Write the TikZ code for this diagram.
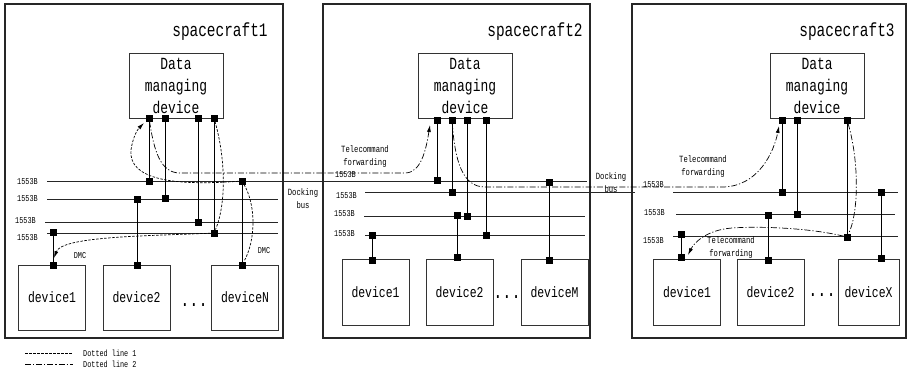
\documentclass[tikz,border=0pt]{standalone}
\usepackage{fontspec}
\newfontfamily\monof[FakeStretch=0.76]{Liberation Mono}
\usetikzlibrary{arrows.meta}
\tikzset{
  sq/.style={fill=black, minimum size=7pt, inner sep=0pt, outer sep=0pt},
  craft/.style={draw=black!85, line width=1.1pt},
  title/.style={font=\monof\fontsize{19}{22}\selectfont, inner sep=0pt},
  dmd/.style={draw=black!80, line width=1pt, minimum width=94pt, minimum height=65pt, inner sep=0pt, align=center, font=\monof\fontsize{17}{22}\selectfont},
  dev/.style={draw=black!80, line width=1pt, minimum width=67pt, minimum height=66pt, inner sep=0pt, font=\monof\fontsize{15}{18}\selectfont},
  bus/.style={draw=black!85, line width=0.9pt},
  conn/.style={draw=black, line width=0.9pt},
  lab/.style={font=\monof\fontsize{9}{10}\selectfont, inner sep=0pt},
  small/.style={font=\monof\fontsize{9.5}{13}\selectfont, inner sep=0pt, align=center},
  dots/.style={font=\monof\fontsize{20}{20}\selectfont, inner sep=0pt},
  dlone/.style={dash pattern=on 2.5pt off 1.5pt, line width=0.7pt},
  dltwo/.style={dash pattern=on 6pt off 2pt on 1.2pt off 2pt, line width=0.7pt},
  tip/.style={-{Latex[length=7pt,width=4pt]}},
}
\begin{document}
\begin{tikzpicture}[x=1pt,y=-1pt]
\useasboundingbox (0,0) rectangle (908,378);

% spacecraft frames
\draw[craft] (5,4) rectangle (283,338);
\draw[craft] (323,4) rectangle (590,338);
\draw[craft] (632,4) rectangle (906,338);
\node[title] (t1) at (220,32) {spacecraft1};
\node[title] (t2) at (535,32) {spacecraft2};
\node[title] (t3) at (847,32) {spacecraft3};

% data managing devices
\node[dmd] (dmd1) at (176,85.5) {Data\\managing\\device};
\node[dmd] (dmd2) at (465,85.5) {Data\\managing\\device};
\node[dmd] (dmd3) at (817,85.5) {Data\\managing\\device};

% devices
\node[dev, minimum height=65pt] (dev11) at (52,297.5) {device1};
\node[dev, minimum height=65pt] (dev12) at (136.5,297.5) {device2};
\node[dev, minimum height=65pt] (dev13) at (245,297.5) {deviceN};
\node[dev] (dev21) at (375.5,292.5) {device1};
\node[dev] (dev22) at (459.5,292.5) {device2};
\node[dev] (dev23) at (554.5,292.5) {deviceM};
\node[dev] (dev31) at (687,292.5) {device1};
\node[dev] (dev32) at (770.5,292.5) {device2};
\node[dev, minimum width=61pt] (dev33) at (868.5,292.5) {deviceX};
\node[dots] (dots1) at (194,305) {...};
\node[dots] (dots2) at (507,297) {...};
\node[dots] (dots3) at (822,295) {...};

% bus end coordinates
\coordinate (s1b1l) at (47,181);  \coordinate (s1b1r) at (587,181);
\coordinate (s1b2l) at (47,199);  \coordinate (s1b2r) at (278,199);
\coordinate (s1b3l) at (45,222);  \coordinate (s1b3r) at (278,222);
\coordinate (s1b4l) at (47,233);  \coordinate (s1b4r) at (278,233);
\coordinate (s2b2l) at (365,192); \coordinate (s2b2r) at (635,192);
\coordinate (s2b3l) at (364,216); \coordinate (s2b3r) at (585,216);
\coordinate (s2b4l) at (365,235); \coordinate (s2b4r) at (585,235);
\coordinate (s3b1l) at (673,192); \coordinate (s3b1r) at (898,192);
\coordinate (s3b2l) at (676,214); \coordinate (s3b2r) at (895,214);
\coordinate (s3b3l) at (673,236); \coordinate (s3b3r) at (898,236);
\draw[bus] (s1b1l) -- (s1b1r);
\draw[bus] (s1b2l) -- (s1b2r);
\draw[bus] (s1b3l) -- (s1b3r);
\draw[bus] (s1b4l) -- (s1b4r);
\draw[bus] (s2b2l) -- (s2b2r);
\draw[bus] (s2b3l) -- (s2b3r);
\draw[bus] (s2b4l) -- (s2b4r);
\draw[bus] (s3b1l) -- (s3b1r);
\draw[bus] (s3b2l) -- (s3b2r);
\draw[bus] (s3b3l) -- (s3b3r);

% bus labels
\node[lab, anchor=west] (l11) at (17,182) {1553B};
\node[lab, anchor=west] (l12) at (17,199) {1553B};
\node[lab, anchor=west] (l13) at (15,221) {1553B};
\node[lab, anchor=west] (l14) at (17,238) {1553B};
\node[lab, anchor=west] (l21) at (335,175) {1553B};
\node[lab, anchor=west] (l22) at (336,196) {1553B};
\node[lab, anchor=west] (l23) at (334,214) {1553B};
\node[lab, anchor=west] (l24) at (334,234) {1553B};
\node[lab, anchor=west] (l31) at (643,185) {1553B};
\node[lab, anchor=west] (l32) at (644,213) {1553B};
\node[lab, anchor=west] (l33) at (643,241) {1553B};

% squares spacecraft1
\node[sq] (m1a) at (149,118) {};
\node[sq] (m1b) at (165,118) {};
\node[sq] (m1c) at (198,118) {};
\node[sq] (m1d) at (214,118) {};
\node[sq] (b1a) at (149,181) {};
\node[sq] (b1b) at (165,198) {};
\node[sq] (b1c) at (198,222) {};
\node[sq] (b1d) at (214,233) {};
\node[sq] (b1e) at (53,232) {};
\node[sq] (b1f) at (137,199) {};
\node[sq] (b1g) at (242,181) {};
\node[sq] (d1a) at (53,265) {};
\node[sq] (d1b) at (137,265) {};
\node[sq] (d1c) at (242,265) {};
\draw[conn] (m1a) -- (b1a);
\draw[conn] (m1b) -- (b1b);
\draw[conn] (m1c) -- (b1c);
\draw[conn] (m1d) -- (b1d);
\draw[conn] (b1e) -- (d1a);
\draw[conn] (b1f) -- (d1b);
\draw[conn] (b1g) -- (d1c);

% squares spacecraft2
\node[sq] (m2a) at (437,120) {};
\node[sq] (m2b) at (452,120) {};
\node[sq] (m2c) at (467,120) {};
\node[sq] (m2d) at (486,120) {};
\node[sq] (b2a) at (437,180) {};
\node[sq] (b2b) at (452,192) {};
\node[sq] (b2c) at (467,216) {};
\node[sq] (b2d) at (486,235) {};
\node[sq] (b2e) at (372,235) {};
\node[sq] (b2f) at (457,215) {};
\node[sq] (b2g) at (549,182) {};
\node[sq] (d2a) at (372,260) {};
\node[sq] (d2b) at (457,257) {};
\node[sq] (d2c) at (549,260) {};
\draw[conn] (m2a) -- (b2a);
\draw[conn] (m2b) -- (b2b);
\draw[conn] (m2c) -- (b2c);
\draw[conn] (m2d) -- (b2d);
\draw[conn] (b2e) -- (d2a);
\draw[conn] (b2f) -- (d2b);
\draw[conn] (b2g) -- (d2c);

% squares spacecraft3
\node[sq] (m3a) at (782,120) {};
\node[sq] (m3b) at (797,120) {};
\node[sq] (m3c) at (847,120) {};
\node[sq] (b3a) at (782,192) {};
\node[sq] (b3b) at (797,214) {};
\node[sq] (b3c) at (847,237) {};
\node[sq] (b3d) at (681,234) {};
\node[sq] (b3e) at (768,215) {};
\node[sq] (b3f) at (881,192) {};
\node[sq] (d3a) at (681,257) {};
\node[sq] (d3b) at (768,260) {};
\node[sq] (d3c) at (881,258) {};
\draw[conn] (m3a) -- (b3a);
\draw[conn] (m3b) -- (b3b);
\draw[conn] (m3c) -- (b3c);
\draw[conn] (b3d) -- (d3a);
\draw[conn] (b3e) -- (d3b);
\draw[conn] (b3f) -- (d3c);

% dotted line 1 (spacecraft1)
\draw[dlone] (m1d) .. controls (226,160) and (226,205) .. (b1d);
\draw[dlone, tip] (b1d) .. controls (150,236) and (62,236) .. (54,258);
\draw[dlone] (b1g) .. controls (256,205) and (256,240) .. (d1c);
\draw[dlone, tip] (b1g) .. controls (175,186) and (128,180) .. (131,150) .. controls (133,136) and (138,129) .. (144,123);

% dotted line 2 (telecommand forwarding)
\draw[dltwo, tip] (m1a) .. controls (154,150) and (160,173) .. (180,173) -- (405,173) .. controls (421,173) and (426,150) .. (430,125);
\draw[dltwo, tip] (m2b) .. controls (455,160) and (462,187) .. (485,187) -- (722,187) .. controls (758,187) and (774,152) .. (779,126);
\draw[dltwo] (m3c) .. controls (859,160) and (859,212) .. (b3c);
\draw[dltwo, tip] (b3c) .. controls (810,228) and (760,226) .. (732,228) .. controls (706,230) and (694,243) .. (688,255);

% small labels
\node[lab] (dmc1) at (80,256) {DMC};
\node[lab] (dmc2) at (264,251) {DMC};
\node[small] (dock1) at (303,199) {Docking\\bus};
\node[small] (dock2) at (611,182.5) {Docking\\bus};
\node[small] (tf1) at (365,156.5) {Telecommand\\forwarding};
\node[small] (tf2) at (703,166.5) {Telecommand\\forwarding};
\node[small] (tf3) at (731,247.5) {Telecommand\\forwarding};

% legend
\coordinate (lg1a) at (25,353); \coordinate (lg1b) at (73,353);
\coordinate (lg2a) at (25,364); \coordinate (lg2b) at (73,364);
\draw[dlone] (lg1a) -- (lg1b);
\draw[dltwo] (lg2a) -- (lg2b);
\node[lab, anchor=west] (lgt1) at (83,353) {Dotted line 1};
\node[lab, anchor=west] (lgt2) at (83,364) {Dotted line 2};
\end{tikzpicture}
\end{document}
